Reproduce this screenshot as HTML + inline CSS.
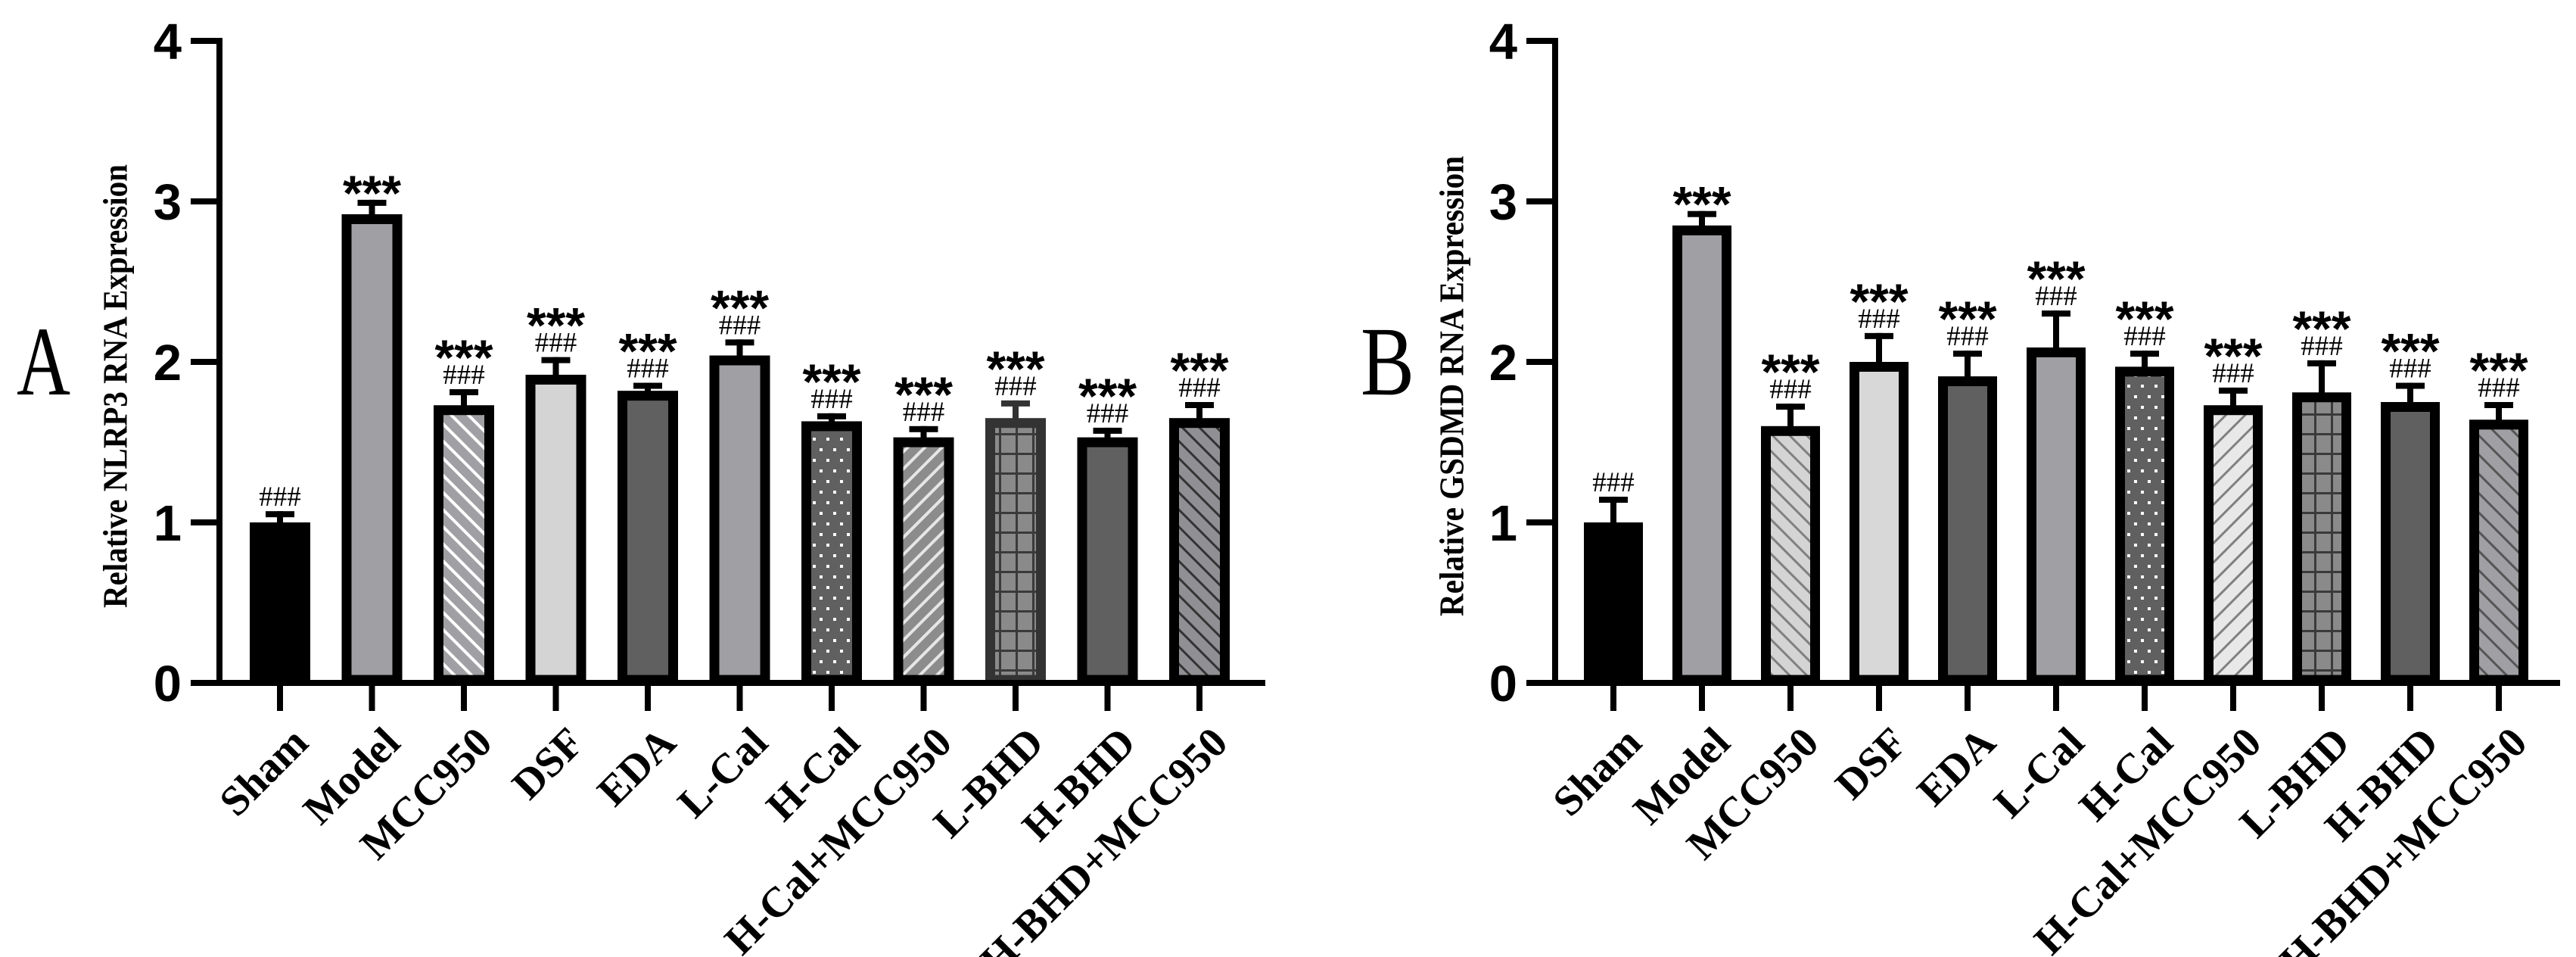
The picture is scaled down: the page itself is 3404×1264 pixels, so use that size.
<!DOCTYPE html>
<html><head><meta charset="utf-8"><style>
html,body{margin:0;padding:0;background:#fff;}
svg{display:block;}
</style></head><body>
<svg id="fig" width="3404" height="1264" viewBox="0 0 3404 1264" xmlns="http://www.w3.org/2000/svg">
<defs>
<pattern id="pWhiteBack" patternUnits="userSpaceOnUse" width="16" height="16" patternTransform="rotate(-45)"><rect width="16" height="16" fill="#a0a0a4"/><rect x="0" y="0" width="4" height="16" fill="#fff"/></pattern>
<pattern id="pWhiteFwd" patternUnits="userSpaceOnUse" width="16" height="16" patternTransform="rotate(45)"><rect width="16" height="16" fill="#8c8c8c"/><rect x="0" y="0" width="4" height="16" fill="#e6e6e6"/></pattern>
<pattern id="pDarkBack" patternUnits="userSpaceOnUse" width="16" height="16" patternTransform="rotate(-45)"><rect width="16" height="16" fill="#909094"/><rect x="0" y="0" width="3" height="16" fill="#333"/></pattern>
<pattern id="pGrayBackLight" patternUnits="userSpaceOnUse" width="16" height="16" patternTransform="rotate(-45)"><rect width="16" height="16" fill="#d4d4d4"/><rect x="0" y="0" width="3" height="16" fill="#808080"/></pattern>
<pattern id="pGrayFwdLight" patternUnits="userSpaceOnUse" width="18" height="18" patternTransform="rotate(45)"><rect width="18" height="18" fill="#e8e8e8"/><rect x="0" y="0" width="3" height="18" fill="#808080"/></pattern>
<pattern id="pDarkBack2" patternUnits="userSpaceOnUse" width="18" height="18" patternTransform="rotate(-45)"><rect width="18" height="18" fill="#a0a0a4"/><rect x="0" y="0" width="3" height="18" fill="#555"/></pattern>
<pattern id="pDots" patternUnits="userSpaceOnUse" width="18" height="28"><rect width="18" height="28" fill="#606060"/><rect x="3" y="4" width="4" height="4" fill="#fff"/><rect x="12" y="18" width="4" height="4" fill="#fff"/></pattern>
<pattern id="pGrid" patternUnits="userSpaceOnUse" width="22" height="26"><rect width="22" height="26" fill="#8a8a8a"/><rect x="0" y="0" width="3" height="26" fill="#3a3a3a"/><rect x="0" y="0" width="22" height="3" fill="#3a3a3a"/></pattern>
</defs>
</svg>
<script>
// ---- data ----
const categories = ["Sham","Model","MCC950","DSF","EDA","L-Cal","H-Cal","H-Cal+MCC950","L-BHD","H-BHD","H-BHD+MCC950"];
const nlrp3Means = [1.00,2.92,1.73,1.92,1.82,2.04,1.63,1.53,1.65,1.53,1.65];
const nlrp3ErrTop = [1.07,3.01,1.83,2.03,1.87,2.14,1.68,1.60,1.76,1.59,1.75];
const gsdmdMeans = [1.00,2.85,1.60,2.00,1.91,2.09,1.97,1.73,1.81,1.75,1.64];
const gsdmdErrTop = [1.16,2.94,1.74,2.18,2.07,2.32,2.07,1.84,2.01,1.87,1.75];
const starsLabels = ["","***","***","***","***","***","***","***","***","***","***"];
const hashLabels = ["###","","###","###","###","###","###","###","###","###","###"];
const yTicks = [0,1,2,3,4];
const fillsA = ["#000","#a0a0a4","url(#pWhiteBack)","#d4d4d4","#606060","#a0a0a4","url(#pDots)","url(#pWhiteFwd)","url(#pGrid)","#606060","url(#pDarkBack)"];
const fillsB = ["#000","#a0a0a4","url(#pGrayBackLight)","#d8d8d8","#606060","#a0a0a4","url(#pDots)","url(#pGrayFwdLight)","url(#pGrid)","#606060","url(#pDarkBack2)"];

const NS = "http://www.w3.org/2000/svg";
const svg = document.getElementById('fig');
function mk(tag, attrs, parent){
  const e = document.createElementNS(NS, tag);
  for (const k in attrs) e.setAttribute(k, attrs[k]);
  (parent||svg).appendChild(e);
  return e;
}

function drawChart(cfg){
  const g = mk('g', {});
  
  
  const y0 = 902, y4 = 54;
  const yScale = v => y0 - (y0 - y4) * v / 4;
  const xScale = i => cfg.firstX + i * cfg.step;

  const L = mk('text', {x: cfg.letterX, y: 521, 'font-family': '"Liberation Serif", serif', 'font-size': 130, textLength: 71, lengthAdjust: 'spacingAndGlyphs', fill: '#000'}, g);
  L.textContent = cfg.letter;
  
  

  const t = mk('text', {x: 0, y: 0, transform: `translate(${cfg.titleX},510) rotate(-90)`, 'text-anchor': 'middle', 'dominant-baseline': 'central', 'font-family': '"Liberation Serif", serif', 'font-weight': 'bold', 'font-size': 46, textLength: cfg.titleLen, lengthAdjust: 'spacingAndGlyphs', fill: '#000'}, g);
  t.textContent = cfg.title;
  
  

  for (let i = 0; i < categories.length; i++){
    const cx = xScale(i), w = cfg.barW, sw = 13;
    const top = yScale(cfg.means[i]);
    const errY = yScale(cfg.err[i]);
    const stroke = (i === 8 && cfg.letter === 'A') ? '#333' : '#000';
    const bg = mk('g', {}, g);
    
    
    mk('rect', {x: cx - 4, y: errY, width: 8, height: top - errY + 2, fill: stroke}, bg);
    mk('rect', {x: cx - 19, y: errY, width: 38, height: 8, fill: stroke}, bg);
    const r = mk('rect', {x: cx - w/2 + sw/2, y: top + sw/2, width: w - sw, height: (y0 - 4) - top - sw/2, fill: cfg.fills[i], stroke: stroke, 'stroke-width': sw}, bg);
    
    
    let starBase;
    if (hashLabels[i]){
      const h = mk('text', {x: cx, y: errY - 7, 'text-anchor': 'middle', 'font-family': '"Liberation Serif", serif', 'font-size': 37, fill: '#000'}, bg);
      h.textContent = hashLabels[i];
      
      
      starBase = errY - 19;
    } else {
      starBase = errY + 14;
    }
    if (starsLabels[i]){
      const s = mk('text', {x: cx, y: starBase, 'text-anchor': 'middle', 'font-family': '"Liberation Sans", sans-serif', 'font-weight': 'bold', 'font-size': 66, fill: '#000'}, bg);
      s.textContent = starsLabels[i];
      
      
    }
    mk('rect', {x: cx - 4, y: y0, width: 8, height: 37, fill: '#000'}, g);
    const lx = cx + 40, ly = 984;
    const tl = mk('text', {x: lx, y: ly, transform: `rotate(-45 ${lx} ${ly})`, 'text-anchor': 'end', 'font-family': '"Liberation Serif", serif', 'font-weight': 'bold', 'font-size': 56, fill: '#000'}, g);
    tl.textContent = categories[i];
    
    
  }

  const ya = mk('rect', {x: cfg.axisX - 4, y: y4 - 4, width: 8, height: y0 - y4 + 8, fill: '#000'}, g);
  
  
  const xa = mk('rect', {x: cfg.axisX - 38, y: y0 - 4, width: cfg.axisEnd - (cfg.axisX - 38), height: 8, fill: '#000'}, g);
  
  
  for (const v of yTicks){
    const y = yScale(v);
    mk('rect', {x: cfg.axisX - 38, y: y - 4, width: 38, height: 8, fill: '#000'}, g);
    const tt = mk('text', {x: cfg.axisX - 50, y: y + 24, 'text-anchor': 'end', 'font-family': '"Liberation Sans", sans-serif', 'font-weight': 'bold', 'font-size': 67, fill: '#000'}, g);
    tt.textContent = String(v);
    
    
  }
}

drawChart({name: 'chart-nlrp3', letter: 'A', letterX: 22, title: 'Relative NLRP3 RNA Expression', titleX: 152, titleLen: 586,
  axisX: 290, axisEnd: 1672, firstX: 370, step: 121.5, barW: 80, means: nlrp3Means, err: nlrp3ErrTop, fills: fillsA});
drawChart({name: 'chart-gsdmd', letter: 'B', letterX: 1798, title: 'Relative GSDMD RNA Expression', titleX: 1918, titleLen: 608,
  axisX: 2055, axisEnd: 3383, firstX: 2132, step: 117, barW: 78, means: gsdmdMeans, err: gsdmdErrTop, fills: fillsB});
</script>
</body></html>
